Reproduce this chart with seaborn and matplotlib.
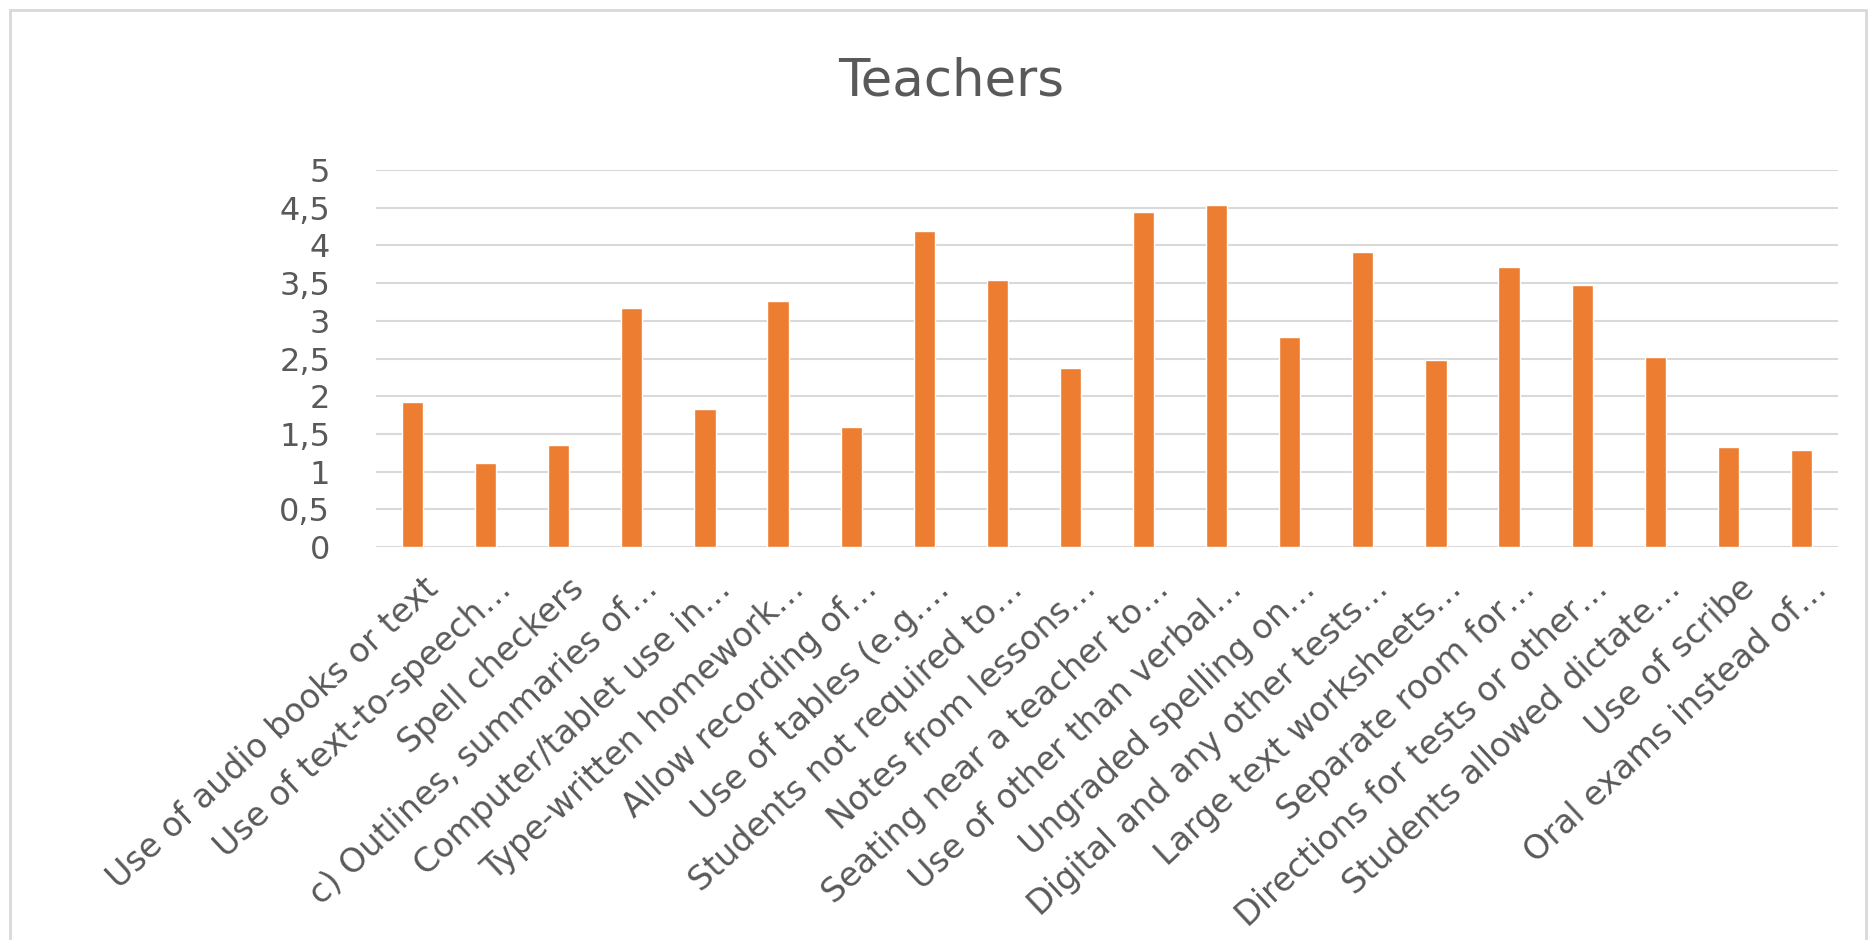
import matplotlib
matplotlib.use("Agg")
import matplotlib.pyplot as plt
import matplotlib.transforms as mtransforms
import seaborn as sns
import pandas as pd
from matplotlib.patches import Rectangle

categories = [
    "Use of audio books or text",
    "Use of text-to-speech…",
    "Spell checkers",
    "c) Outlines, summaries of…",
    "Computer/tablet use in…",
    "Type-written homework…",
    "Allow recording of…",
    "Use of tables (e.g.…",
    "Students not required to…",
    "Notes from lessons…",
    "Seating near a teacher to…",
    "Use of other than verbal…",
    "Ungraded spelling on…",
    "Digital and any other tests…",
    "Large text worksheets…",
    "Separate room for…",
    "Directions for tests or other…",
    "Students allowed dictate…",
    "Use of scribe",
    "Oral exams instead of…",
]
values = [1.92, 1.11, 1.35, 3.17, 1.83, 3.26, 1.59, 4.19, 3.54, 2.37,
          4.44, 4.54, 2.79, 3.91, 2.48, 3.71, 3.47, 2.52, 1.32, 1.28]
y_ticks = [0, 0.5, 1, 1.5, 2, 2.5, 3, 3.5, 4, 4.5, 5]
y_tick_labels = ["0", "0,5", "1", "1,5", "2", "2,5", "3", "3,5", "4", "4,5", "5"]
title = "Teachers"

sns.set_theme(style="white")
plt.rcParams["font.family"] = ["DejaVu Sans"]
text_color = "#595959"
grid_color = "#D9D9D9"
bar_color = "#ED7D31"

df = pd.DataFrame({"category": categories, "value": values})

fig = plt.figure(figsize=(18.76, 9.40), dpi=100)
ax = fig.add_axes([376 / 1876, 1 - 547 / 940, (1838 - 376) / 1876, (547 - 170) / 940])

sns.barplot(data=df, x="category", y="value", order=categories, color=bar_color,
            saturation=1, width=0.29, ax=ax, zorder=3)

ax.set_xlim(-0.5, len(categories) - 0.5)
ax.set_ylim(0, 5)
ax.set_yticks(y_ticks)
ax.set_yticklabels(y_tick_labels, fontsize=23, color=text_color)
ax.set_xticks(range(len(categories)))
ax.set_xticklabels(categories, fontsize=24, color=text_color, rotation=43,
                   ha="right", va="top", rotation_mode="anchor")
ax.tick_params(axis="y", length=0, pad=33)
ax.tick_params(axis="x", length=0, pad=18)
offset = mtransforms.ScaledTranslation(7 / 72, 0, fig.dpi_scale_trans)
for lbl in ax.get_xticklabels():
    lbl.set_transform(lbl.get_transform() + offset)
ax.set_xlabel("")
ax.set_ylabel("")
for s in ax.spines.values():
    s.set_visible(False)
ax.yaxis.grid(True, color=grid_color, linewidth=1.5, zorder=0)
ax.xaxis.grid(False)
ax.set_axisbelow(True)

fig.text(951 / 1876, 1 - 95 / 940, title, fontsize=37, color=text_color,
         ha="center", va="baseline")

fig.patches.append(Rectangle((10 / 1876, -0.02), (1866 - 10) / 1876, 1.02 - 10 / 940,
                             transform=fig.transFigure, fill=False,
                             edgecolor=grid_color, linewidth=2))

fig.savefig("out.png", dpi=100, facecolor="white")
